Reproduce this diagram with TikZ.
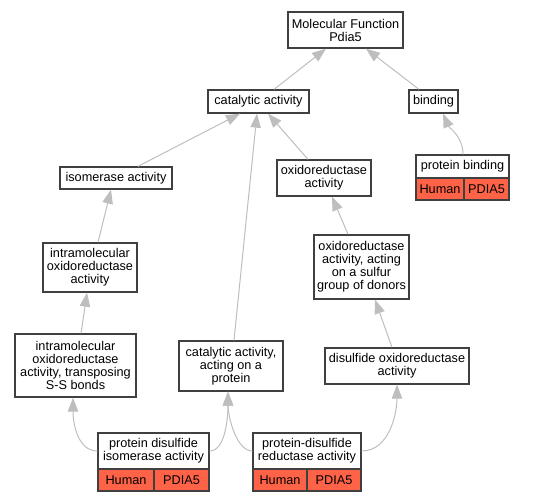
\documentclass[tikz,border=0pt]{standalone}
\usepackage{fontspec}
\setmainfont{Liberation Sans}
\usetikzlibrary{arrows.meta}
\definecolor{edgegray}{RGB}{190,190,190}
\definecolor{genered}{RGB}{255,99,71}
\begin{document}
\begin{tikzpicture}[x=1pt,y=-1pt,
term/.style={draw=black!75,line width=1.3pt,fill=white,align=center,inner sep=0pt,font=\fontsize{12.7}{13}\selectfont},
gene/.style={term,fill=genered},
isa/.style={draw=edgegray,line width=1pt,-{Triangle[length=14pt,width=10.5pt]}}]
\useasboundingbox (0,0) rectangle (548,501);
% The terms
\node[term,minimum width=115,minimum height=36] (mf) at (345.5,30) {Molecular Function\\Pdia5};
\node[term,minimum width=101,minimum height=23] (cat) at (258.5,101.5) {catalytic activity};
\node[term,minimum width=49,minimum height=23] (bind) at (433.5,101.5) {binding};
\node[term,minimum width=112,minimum height=22] (iso) at (116,178) {isomerase activity};
\node[term,minimum width=94,minimum height=36] (oxr) at (324,178) {oxidoreductase\\activity};
\node[term,minimum width=94,minimum height=49] (intra) at (90,267.5) {intramolecular\\oxidoreductase\\activity};
\node[term,minimum width=95,minimum height=64] (sulf) at (361.5,267) {oxidoreductase\\activity, acting\\on a sulfur\\group of donors};
\node[term,minimum width=121,minimum height=63] (trans) at (75.5,365.5) {intramolecular\\oxidoreductase\\activity, transposing\\S-S bonds};
\node[term,minimum width=104,minimum height=50] (capr) at (231,366) {catalytic activity,\\acting on a\\protein};
\node[term,minimum width=144,minimum height=36] (dsox) at (397,366) {disulfide oxidoreductase\\activity};
% The annotated terms with their genes
\node[term,minimum width=93,minimum height=23] (pb) at (462.5,166.5) {protein binding};
\node[gene,minimum width=48,minimum height=22] (pbh) at (440,189) {Human};
\node[gene,minimum width=45,minimum height=22] (pbg) at (486.5,189) {PDIA5};
\node[term,minimum width=111,minimum height=36] (pdi) at (153.5,451) {protein disulfide\\isomerase activity};
\node[gene,minimum width=56,minimum height=22] (pdih) at (126,480) {Human};
\node[gene,minimum width=55,minimum height=22] (pdig) at (181.5,480) {PDIA5};
\node[term,minimum width=108,minimum height=36] (pdr) at (307,451) {protein-disulfide\\reductase activity};
\node[gene,minimum width=54,minimum height=22] (pdrh) at (280,480) {Human};
\node[gene,minimum width=54,minimum height=22] (pdrg) at (334,480) {PDIA5};
% The is_a edges
\draw[isa] ([xshift=15.5]cat.north) -- ([xshift=-19.5]mf.south);
\draw[isa] ([xshift=-14.5]bind.north) -- ([xshift=20.5]mf.south);
\draw[isa] ([xshift=22]iso.north) -- ([xshift=-18.5]cat.south);
\draw[isa] ([xshift=-16]oxr.north) -- ([xshift=9.5]cat.south);
\draw[isa] ([xshift=3]capr.north) -- ([xshift=-1.5]cat.south);
\draw[isa] ([xshift=0.5]pb.north) .. controls +(0,-18) and +(6,14) .. ([xshift=9.5]bind.south);
\draw[isa] ([xshift=8]intra.north) -- ([xshift=-5]iso.south);
\draw[isa] ([xshift=-13.5]sulf.north) -- ([xshift=8]oxr.south);
\draw[isa] ([xshift=5.5]trans.north) -- ([xshift=-3]intra.south);
\draw[isa] ([xshift=-5]dsox.north) -- ([xshift=13.5]sulf.south);
% Curved edges from the gene boxes
\draw[isa] (pdi.west) .. controls +(-20,0) and +(0,25) .. ([xshift=-2.5]trans.south);
\draw[isa] (pdi.east) .. controls +(16,0) and +(0,25) .. ([xshift=-3]capr.south);
\draw[isa] (pdr.west) .. controls +(-16,0) and +(0,25) .. ([xshift=-3]capr.south);
\draw[isa] (pdr.east) .. controls +(28,0) and +(0,28) .. (dsox.south);
\end{tikzpicture}
\end{document}
